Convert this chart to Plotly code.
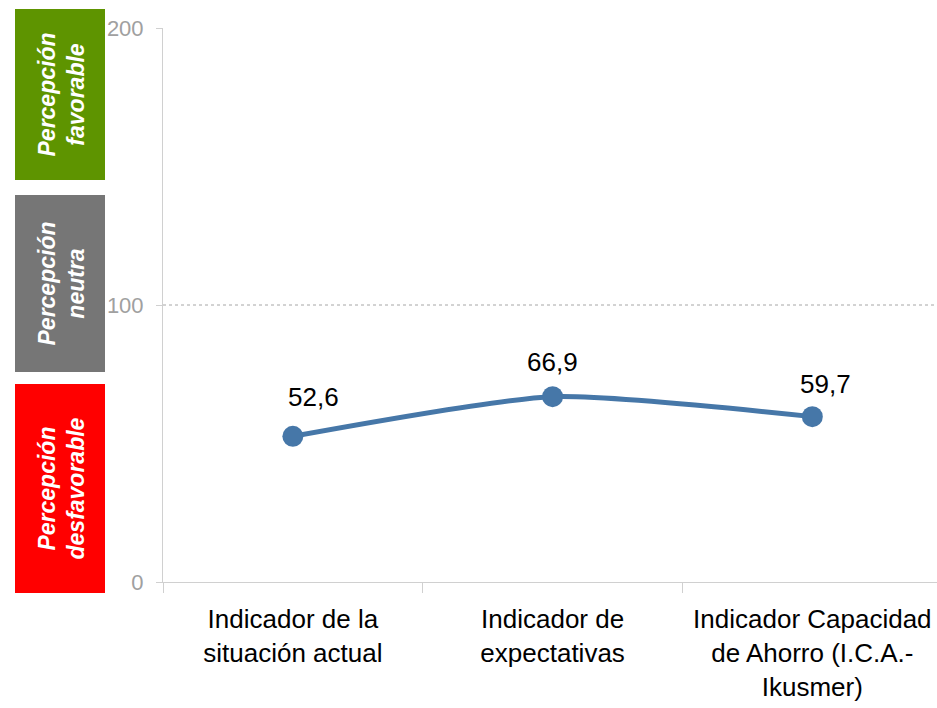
import plotly.graph_objects as go

categories = ["Indicador de la<br>situación actual", "Indicador de<br>expectativas",
              "Indicador Capacidad<br>de Ahorro (I.C.A.-<br>Ikusmer)"]
values = [52.6, 66.9, 59.7]
labels = ["52,6", "66,9", "59,7"]
label_xshift = [21, 0, 13]
label_yshift = [22, 18, 16]

W, H = 937, 708
ML, MR, MT, MB = 163, 0, 28, 126
pw = W - ML - MR
ph = H - MT - MB

def px2x(px):
    return (px - ML) / pw

def py2y(py):
    return (H - MB - py) / ph

FONT = "Liberation Sans, Arial"

fig = go.Figure()
fig.add_trace(go.Scatter(
    x=categories, y=values, mode="lines+markers",
    line=dict(color="#4677A8", width=5, shape="spline", smoothing=0.6),
    marker=dict(size=21, color="#4677A8"),
    cliponaxis=False, showlegend=False,
))

shapes = [
    dict(type="line", xref="paper", yref="y", x0=0, x1=1, y0=100, y1=100,
         line=dict(color="#A6A6A6", width=1, dash="dot")),
]
boxes = [
    (9, 180, "#5E9400", "Percepción<br>favorable"),
    (195, 372, "#767676", "Percepción<br>neutra"),
    (384, 593, "#FF0000", "Percepción<br>desfavorable"),
]
annotations = []
for top, bot, col, txt in boxes:
    shapes.append(dict(type="rect", xref="paper", yref="paper",
                       x0=px2x(15), x1=px2x(105), y0=py2y(bot), y1=py2y(top),
                       fillcolor=col, line=dict(width=0), layer="below"))
    annotations.append(dict(xref="paper", yref="paper", x=px2x(61), y=py2y((top + bot) / 2),
                            text="<b><i>" + txt + "</i></b>", textangle=-90, showarrow=False,
                            font=dict(family=FONT, size=23, color="white"),
                            xanchor="center", yanchor="middle"))

for c, v, t, xs, ys in zip(categories, values, labels, label_xshift, label_yshift):
    annotations.append(dict(xref="x", yref="y", x=c, y=v, text=t, showarrow=False,
                            xanchor="center", yanchor="bottom", yshift=ys, xshift=xs,
                            font=dict(family=FONT, size=26, color="#000000")))

fig.update_layout(
    width=W, height=H,
    margin=dict(l=ML, r=MR, t=MT, b=MB, autoexpand=False),
    plot_bgcolor="white", paper_bgcolor="white",
    separators=",.",
    shapes=shapes, annotations=annotations,
    xaxis=dict(type="category", categoryorder="array", categoryarray=categories,
               range=[-0.5, 2.48], showgrid=False, zeroline=False,
               showline=True, linecolor="#D0D0D0", linewidth=1,
               ticks="outside", tickson="boundaries", ticklen=10, tickcolor="#D0D0D0",
               ticklabelstandoff=14,
               tickfont=dict(family=FONT, size=26, color="#000000")),
    yaxis=dict(range=[0, 200], tickvals=[0, 100, 200], showgrid=False, zeroline=False,
               showline=True, linecolor="#D0D0D0", linewidth=1,
               ticks="outside", ticklen=6, tickcolor="#D0D0D0",
               ticklabelstandoff=8,
               tickfont=dict(family=FONT, size=22, color="#A0A0A0")),
)

fig.write_html("out.html")
